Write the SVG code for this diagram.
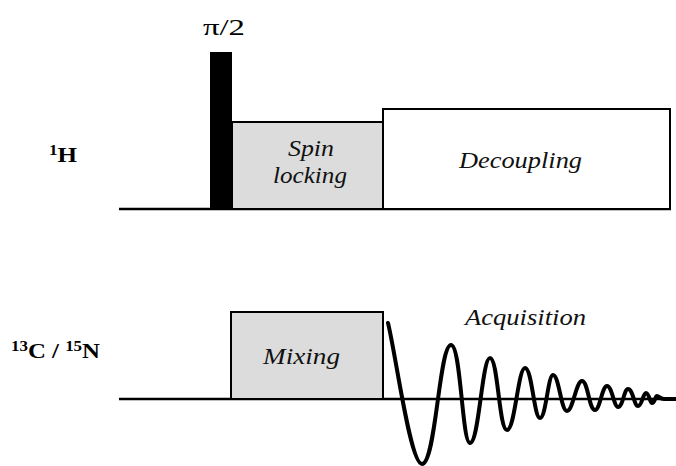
<svg xmlns="http://www.w3.org/2000/svg" width="676" height="466" viewBox="0 0 676 466" font-family="Liberation Serif">
<style>
.lab{font-family:"Liberation Serif",serif;font-weight:bold;font-size:22px;fill:#000}
.it{font-family:"Liberation Serif",serif;font-style:italic;font-size:23px;fill:#111}
.box{stroke:#000;stroke-width:2}
.gray{fill:#dcdcdc}
.base{stroke:#000;stroke-width:2.6;fill:none}
.fid{stroke:#000;stroke-width:4;fill:none;stroke-linejoin:round;stroke-linecap:round}
</style>
<g id="connectors">
<line class="base" x1="119" y1="209" x2="671" y2="209"/>
<line class="base" x1="119" y1="399" x2="676" y2="399"/>
</g>
<g id="label-H"><text class="lab" x="49" y="162" textLength="28" lengthAdjust="spacingAndGlyphs"><tspan font-size="15" dy="-7">1</tspan><tspan dy="7">H</tspan></text></g>
<g id="label-CN"><text class="lab" x="11" y="358" textLength="89" lengthAdjust="spacingAndGlyphs"><tspan font-size="15" dy="-7">13</tspan><tspan dy="7">C / </tspan><tspan font-size="15" dy="-7">15</tspan><tspan dy="7">N</tspan></text></g>
<g id="pulse90">
<rect x="210" y="52" width="22" height="157" fill="#000"/>
<text x="203" y="35" font-family="Liberation Serif" font-size="23" textLength="42" lengthAdjust="spacingAndGlyphs">π/2</text>
</g>
<g id="spinlock">
<rect class="box gray" x="232" y="122" width="151" height="87"/>
<text class="it" x="288" y="156" textLength="46" lengthAdjust="spacingAndGlyphs">Spin</text>
<text class="it" x="273" y="183" textLength="74" lengthAdjust="spacingAndGlyphs">locking</text>
</g>
<g id="decoupling">
<rect class="box" x="383" y="109" width="287" height="100" fill="#fff"/>
<text class="it" x="459" y="168" textLength="123" lengthAdjust="spacingAndGlyphs">Decoupling</text>
</g>
<g id="mixing">
<rect class="box gray" x="231" y="312" width="152" height="87"/>
<text class="it" x="263" y="364" textLength="77" lengthAdjust="spacingAndGlyphs">Mixing</text>
</g>
<g id="acquisition">
<text class="it" x="465" y="325" textLength="121" lengthAdjust="spacingAndGlyphs">Acquisition</text>
<path class="fid" d="M388,323 C396,355 410,464 422,464 C436,464 439,345 451,345 C461,345 462,443 470,443 C479,443 482,358 490,358 C498,358 499,430 507,430 C515,430 518,368 525,368 C532,368 534,418 540,418 C546,418 548,375 553,375 C559,375 561,411 567,411 C573,411 576,381 582,381 C588,381 589,410 595,410 C600,410 602,386 607,386 C612,386 614,407 618,407 C623,407 624,389 628,389 C633,389 634,406 638,406 C642,406 643,393 646,393 C649,393 650,403 652,403 C655,403 655,396 657,396 C659,396 660,399 664,399 L676,399"/>
</g>
</svg>
